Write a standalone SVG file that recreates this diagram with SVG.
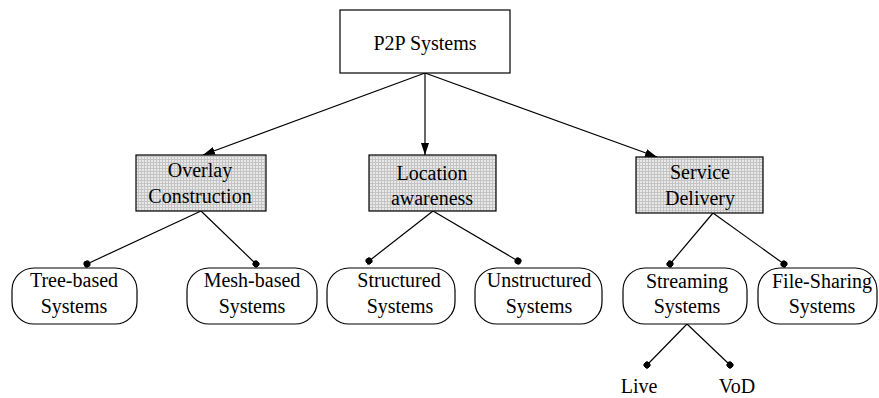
<svg xmlns="http://www.w3.org/2000/svg" width="879" height="398" viewBox="0 0 879 398">
  <style>
    text { font-family: "Liberation Serif", "Times New Roman", serif; font-size: 20px; fill: #000; text-anchor: middle; }
    .root { fill: #fff; stroke: #000; stroke-width: 1.2; }
    .cat { fill: url(#grid); stroke: #000; stroke-width: 1.2; }
    .leaf { fill: #fff; stroke: #000; stroke-width: 1.2; }
    .edge { stroke: #000; stroke-width: 1.2; fill: none; }
    .arrow { marker-end: url(#arrowhead); }
    .dot { marker-end: url(#dothead); }
  </style>
  <defs>
    <pattern id="grid" width="3" height="3" patternUnits="userSpaceOnUse">
      <rect width="3" height="3" fill="#e8e8e8"/>
      <path d="M0 0.5H3M0.5 0V3" stroke="#c4c4c4" stroke-width="1"/>
    </pattern>
    <marker id="arrowhead" viewBox="0 0 12 8" refX="12" refY="4" markerWidth="12" markerHeight="8" markerUnits="userSpaceOnUse" orient="auto">
      <path d="M0 0L12 4L0 8Z" fill="#000"/>
    </marker>
    <marker id="dothead" viewBox="0 0 8 8" refX="4" refY="4" markerWidth="7" markerHeight="7" markerUnits="userSpaceOnUse" orient="auto">
      <circle cx="4" cy="4" r="4" fill="#000"/>
    </marker>
  </defs>

  <!-- connectors -->
  <g id="connectors">
    <line class="edge arrow" x1="425" y1="73" x2="203" y2="155"/>
    <line class="edge arrow" x1="425" y1="73" x2="425" y2="155"/>
    <line class="edge arrow" x1="425" y1="73" x2="657" y2="157"/>
    <line class="edge dot" x1="201" y1="211" x2="87" y2="264"/>
    <line class="edge dot" x1="201" y1="211" x2="256" y2="264"/>
    <line class="edge dot" x1="433" y1="211" x2="369" y2="261"/>
    <line class="edge dot" x1="433" y1="211" x2="518" y2="261"/>
    <line class="edge dot" x1="713" y1="213" x2="670" y2="264"/>
    <line class="edge dot" x1="713" y1="213" x2="784" y2="264"/>
    <line class="edge dot" x1="687" y1="324" x2="647" y2="365"/>
    <line class="edge dot" x1="687" y1="324" x2="730" y2="365"/>
  </g>

  <!-- root -->
  <g id="p2p-systems">
    <rect class="root" x="340" y="10" width="170" height="63"/>
    <text x="425" y="50">P2P Systems</text>
  </g>

  <!-- categories -->
  <g id="overlay-construction">
    <rect class="cat" x="136" y="155" width="130" height="56"/>
    <text x="200" y="177">Overlay</text>
    <text x="200" y="203">Construction</text>
  </g>
  <g id="location-awareness">
    <rect class="cat" x="369" y="155" width="127" height="56"/>
    <text x="432" y="180">Location</text>
    <text x="432" y="205">awareness</text>
  </g>
  <g id="service-delivery">
    <rect class="cat" x="636" y="157" width="127" height="56"/>
    <text x="700" y="179">Service</text>
    <text x="700" y="205">Delivery</text>
  </g>

  <!-- leaves -->
  <g id="tree-based">
    <rect class="leaf" x="12" y="268" width="125" height="56" rx="22" ry="22"/>
    <text x="74" y="287">Tree-based</text>
    <text x="74" y="313">Systems</text>
  </g>
  <g id="mesh-based">
    <rect class="leaf" x="187" y="268" width="130" height="56" rx="22" ry="22"/>
    <text x="252" y="287">Mesh-based</text>
    <text x="252" y="313">Systems</text>
  </g>
  <g id="structured">
    <rect class="leaf" x="327" y="268" width="128" height="56" rx="22" ry="22"/>
    <text x="399" y="287">Structured</text>
    <text x="400" y="313">Systems</text>
  </g>
  <g id="unstructured">
    <rect class="leaf" x="475" y="268" width="127" height="56" rx="22" ry="22"/>
    <text x="539" y="287">Unstructured</text>
    <text x="539" y="313">Systems</text>
  </g>
  <g id="streaming">
    <rect class="leaf" x="623" y="268" width="124" height="56" rx="22" ry="22"/>
    <text x="687" y="288">Streaming</text>
    <text x="687" y="313">Systems</text>
  </g>
  <g id="file-sharing">
    <rect class="leaf" x="758" y="268" width="119" height="56" rx="22" ry="22"/>
    <text x="822" y="288">File-Sharing</text>
    <text x="822" y="313">Systems</text>
  </g>

  <!-- streaming sub-types -->
  <g id="live">
    <text x="639" y="393">Live</text>
  </g>
  <g id="vod">
    <text x="737" y="393">VoD</text>
  </g>
</svg>
